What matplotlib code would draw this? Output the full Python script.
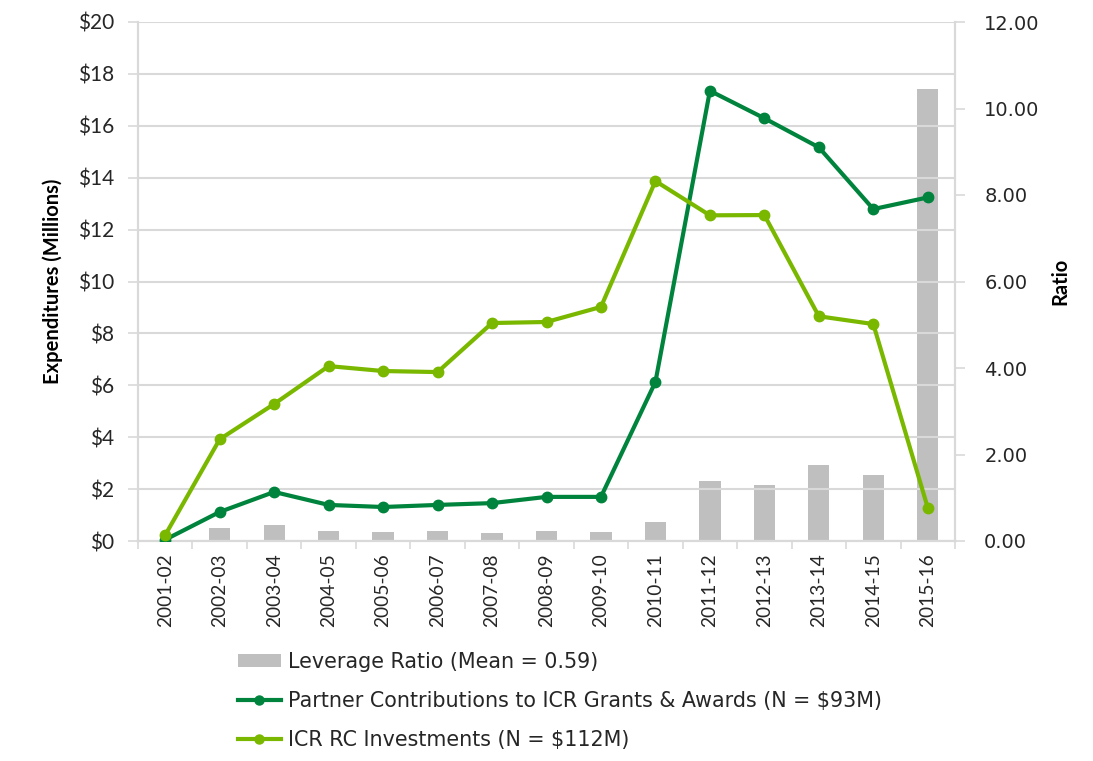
import matplotlib
matplotlib.use("Agg")
import matplotlib.pyplot as plt
import numpy as np
from matplotlib.lines import Line2D
from matplotlib.patches import Patch

years = ["2001-02", "2002-03", "2003-04", "2004-05", "2005-06", "2006-07", "2007-08",
         "2008-09", "2009-10", "2010-11", "2011-12", "2012-13", "2013-14", "2014-15", "2015-16"]
partner = [0.05, 1.12, 1.89, 1.39, 1.31, 1.39, 1.46, 1.70, 1.70, 6.13, 17.35, 16.29, 15.17, 12.79, 13.24]
rc_invest = [0.23, 3.92, 5.28, 6.74, 6.55, 6.51, 8.40, 8.44, 9.02, 13.87, 12.55, 12.56, 8.66, 8.36, 1.28]
leverage = [0.0, 0.29, 0.36, 0.22, 0.21, 0.22, 0.18, 0.22, 0.20, 0.45, 1.39, 1.30, 1.76, 1.53, 10.44]

left_ticks = list(range(0, 21, 2))
right_ticks = [0, 2, 4, 6, 8, 10, 12]

DARK = "#00843D"
LIGHT = "#7AB800"
GRAY = "#BFBFBF"
GRID = "#D9D9D9"
TXT = "#262626"

fig = plt.figure(figsize=(10.93, 7.61), dpi=100)
ax = fig.add_axes([138/1093, 1-541/761, (955-138)/1093, (541-22)/761])
ax2 = ax.twinx()

x = np.arange(len(years))

ax2.bar(x, leverage, width=0.39, color=GRAY, zorder=1)
ax2.set_ylim(0, 12)
ax2.set_yticks(right_ticks)
ax2.set_yticklabels([f"{v:.2f}" for v in right_ticks], fontsize=14, color=TXT, family="DejaVu Sans")
ax2.set_ylabel("Ratio", fontsize=14.5, fontweight="bold", family="Lato", labelpad=8)

ax.set_zorder(ax2.get_zorder() + 1)
ax.patch.set_visible(False)

ax.plot(x, partner, color=DARK, lw=3, marker="o", ms=7.5, zorder=3)
ax.plot(x, rc_invest, color=LIGHT, lw=3, marker="o", ms=7.5, zorder=3)

ax.set_ylim(0, 20)
ax.set_xlim(-0.5, len(years) - 0.5)
ax.set_yticks(left_ticks)
ax.set_yticklabels([f"${v}" for v in left_ticks], fontsize=15, color=TXT, family="Lato")
ax.set_ylabel("Expenditures (Millions)", fontsize=14.5, fontweight="bold", family="Lato", labelpad=11)
ax.yaxis.grid(True, color=GRID, lw=1.5)
ax.set_axisbelow(True)

ax.set_xticks(x)
ax.set_xticklabels(years, rotation=90, fontsize=13.8, color=TXT, family="Lato")
ax.set_xticks(np.arange(-0.5, len(years)), minor=True)
ax.tick_params(axis="x", which="major", length=0, pad=9)
ax.tick_params(axis="x", which="minor", length=6, color=GRID, width=1.2)
ax.tick_params(axis="y", length=7, color=GRID, width=1.2, pad=10)
ax2.tick_params(axis="y", length=7, color=GRID, width=1.2, pad=14)
ax2.tick_params(axis="x", length=0)

for a in (ax, ax2):
    a.spines["top"].set_visible(False)
    for s in ("left", "right", "bottom"):
        a.spines[s].set_color(GRID)
        a.spines[s].set_linewidth(1.5)

handles = [
    Patch(facecolor=GRAY, edgecolor="none"),
    Line2D([0], [0], color=DARK, lw=3, marker="o", ms=6.5),
    Line2D([0], [0], color=LIGHT, lw=3, marker="o", ms=6.5),
]
labels = [
    "Leverage Ratio (Mean = 0.59)",
    "Partner Contributions to ICR Grants & Awards (N = $93M)",
    "ICR RC Investments (N = $112M)",
]
leg = fig.legend(handles, labels, loc="upper left", bbox_to_anchor=(219/1093, 1-633/761),
                 frameon=False, handlelength=2.1, handleheight=0.6,
                 labelspacing=0.92, handletextpad=0.33, prop={"family": "DejaVu Sans", "size": 14.9})
for t in leg.get_texts():
    t.set_color(TXT)

fig.savefig("out.png", dpi=100)
